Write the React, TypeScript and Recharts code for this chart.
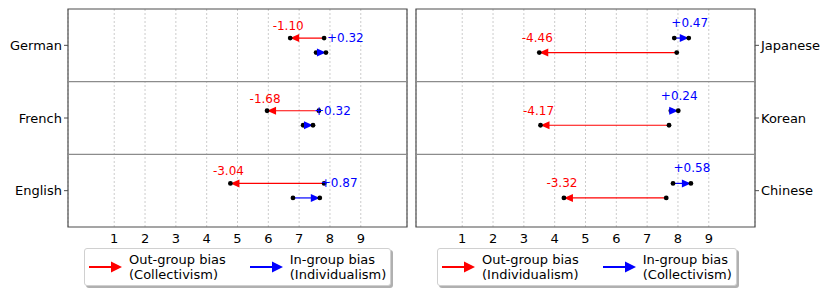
import React from "react";
import {
  ComposedChart,
  Scatter,
  XAxis,
  YAxis,
  CartesianGrid,
  ReferenceLine,
  ReferenceArea,
} from "recharts";

const leftLanguages = ["German", "French", "English"];
const leftOutStart = [7.81, 7.64, 7.81];
const leftOutBias = [-1.1, -1.68, -3.04];
const leftInStart = [7.55, 7.13, 6.8];
const leftInBias = [0.32, 0.32, 0.87];

const rightLanguages = ["Japanese", "Korean", "Chinese"];
const rightOutStart = [7.96, 7.71, 7.62];
const rightOutBias = [-4.46, -4.17, -3.32];
const rightInStart = [7.88, 7.77, 7.84];
const rightInBias = [0.47, 0.24, 0.58];

const xTicks = [1, 2, 3, 4, 5, 6, 7, 8, 9];

const leftLegend = ["(Collectivism)", "(Individualism)"];
const rightLegend = ["(Individualism)", "(Collectivism)"];

const RED = "#ff0000";
const BLUE = "#0000ff";
const FRAME = "#4d4d4d";
const FONT = "'DejaVu Sans', sans-serif";

const fmt = (v: number) => (v > 0 ? "+" : "") + v.toFixed(2);

// label placement per side / kind (pixels, relative to arrow end)
function labelPos(side: string, kind: string) {
  if (side === "left") {
    if (kind === "out") return { dx: -2, dy: -12, anchor: "middle" };
    return { dx: 1, dy: -14.6, anchor: "start" };
  }
  if (kind === "out") return { dx: -2, dy: -14.5, anchor: "middle" };
  return { dx: 1, dy: -15, anchor: "middle" };
}

function makeShape(color: string, side: string, kind: string) {
  return (props: any) => {
    const { cx, cy, payload } = props;
    if (!payload.head) {
      return <circle cx={cx} cy={cy} r={2.4} fill="#000" />;
    }
    const d = payload.dir;
    const hl = 9;
    const hw = 4;
    const pts = `${cx},${cy} ${cx - d * hl},${cy - hw} ${cx - d * hl},${cy + hw}`;
    const lp = labelPos(side, kind);
    return (
      <g>
        <polygon points={pts} fill={color} />
        <circle cx={cx} cy={cy} r={2.4} fill="#000" />
        <text
          x={cx + lp.dx}
          y={cy + lp.dy}
          fill={color}
          fontSize={12}
          textAnchor={lp.anchor as any}
          dominantBaseline="central"
        >
          {fmt(payload.bias)}
        </text>
      </g>
    );
  };
}

function arrowData(start: number, bias: number, y: number) {
  return [
    { x: start, y },
    { x: start + bias, y, head: true, dir: Math.sign(bias), bias },
  ];
}

function Panel({
  languages,
  outStart,
  outBias,
  inStart,
  inBias,
  side,
}: {
  languages: string[];
  outStart: number[];
  outBias: number[];
  inStart: number[];
  inBias: number[];
  side: "left" | "right";
}) {
  const outOff = side === "left" ? 0.1 : -0.1;
  const inOff = -outOff;
  const rows = languages.map((_, i) => 2.5 - i);
  return (
    <ComposedChart
      width={415}
      height={297}
      margin={
        side === "left"
          ? { top: 9, right: 8, bottom: 50, left: 0 }
          : { top: 9, right: 0, bottom: 50, left: 1 }
      }
    >
      <CartesianGrid
        horizontal={false}
        stroke="#cccccc"
        strokeDasharray="2 2"
      />
      <XAxis
        type="number"
        dataKey="x"
        domain={[-0.5, 10.5]}
        ticks={xTicks}
        allowDataOverflow
        axisLine={false}
        tickLine={false}
        tickSize={6}
        tickMargin={1}
        height={20}
        tick={{ fontSize: 13, fill: "#000" }}
      />
      <YAxis
        type="number"
        dataKey="y"
        domain={[0, 3]}
        ticks={[2.5, 1.5, 0.5]}
        orientation={side}
        width={side === "left" ? 68 : 75}
        axisLine={false}
        tickSize={4}
        tickMargin={2}
        tickLine={{ stroke: FRAME }}
        tick={{ fontSize: 13, fill: "#000" }}
        tickFormatter={(v: number) => languages[Math.round(2.5 - v)]}
      />
      <ReferenceLine y={1} stroke="#8c8c8c" strokeWidth={1.2} />
      <ReferenceLine y={2} stroke="#8c8c8c" strokeWidth={1.2} />
      <ReferenceArea
        x1={-0.5}
        x2={10.5}
        y1={0}
        y2={3}
        fill="none"
        stroke={FRAME}
        strokeWidth={1.2}
        fillOpacity={0}
      />
      {rows.map((r, i) => (
        <Scatter
          key={"out" + i}
          data={arrowData(outStart[i], outBias[i], r + outOff)}
          line={{ stroke: RED, strokeWidth: 1.2 }}
          shape={makeShape(RED, side, "out")}
          isAnimationActive={false}
        />
      ))}
      {rows.map((r, i) => (
        <Scatter
          key={"in" + i}
          data={arrowData(inStart[i], inBias[i], r + inOff)}
          line={{ stroke: BLUE, strokeWidth: 1.2 }}
          shape={makeShape(BLUE, side, "in")}
          isAnimationActive={false}
        />
      ))}
    </ComposedChart>
  );
}

function LegendArrow({ color }: { color: string }) {
  return (
    <svg width={34} height={14} style={{ display: "block" }}>
      <line x1={0} y1={7} x2={24} y2={7} stroke={color} strokeWidth={2} />
      <polygon points="33,7 22,1.5 22,12.5" fill={color} />
    </svg>
  );
}

function LegendBox({
  left,
  width,
  labels,
  gap,
}: {
  left: number;
  width: number;
  labels: string[];
  gap: number;
}) {
  const item = (color: string, title: string, sub: string) => (
    <div style={{ display: "flex", alignItems: "center" }}>
      <LegendArrow color={color} />
      <div style={{ marginLeft: 6, lineHeight: "15px", fontSize: 13 }}>
        <div>{title}</div>
        <div>{sub}</div>
      </div>
    </div>
  );
  return (
    <div
      style={{
        position: "absolute",
        left,
        top: 248,
        width,
        height: 38,
        boxSizing: "border-box",
        border: "1px solid #d0d0d0",
        borderRadius: 3,
        background: "#fff",
        boxShadow: "2px 2px 0 #b0b0b0",
        display: "flex",
        alignItems: "center",
        paddingLeft: 4,
        fontFamily: FONT,
        color: "#000",
      }}
    >
      {item(RED, "Out-group bias", labels[0])}
      <div style={{ width: gap }} />
      {item(BLUE, "In-group bias", labels[1])}
    </div>
  );
}

export default function App() {
  return (
    <div
      style={{
        position: "absolute",
        left: 0,
        top: 0,
        width: 830,
        height: 297,
        background: "#fff",
        fontFamily: FONT,
      }}
    >
      <div style={{ position: "absolute", left: 0, top: 0 }}>
        <Panel
          languages={leftLanguages}
          outStart={leftOutStart}
          outBias={leftOutBias}
          inStart={leftInStart}
          inBias={leftInBias}
          side="left"
        />
      </div>
      <div style={{ position: "absolute", left: 415, top: 0 }}>
        <Panel
          languages={rightLanguages}
          outStart={rightOutStart}
          outBias={rightOutBias}
          inStart={rightInStart}
          inBias={rightInBias}
          side="right"
        />
      </div>
      <LegendBox left={84} width={307} labels={leftLegend} gap={24} />
      <LegendBox left={437} width={300} labels={rightLegend} gap={24} />
    </div>
  );
}
